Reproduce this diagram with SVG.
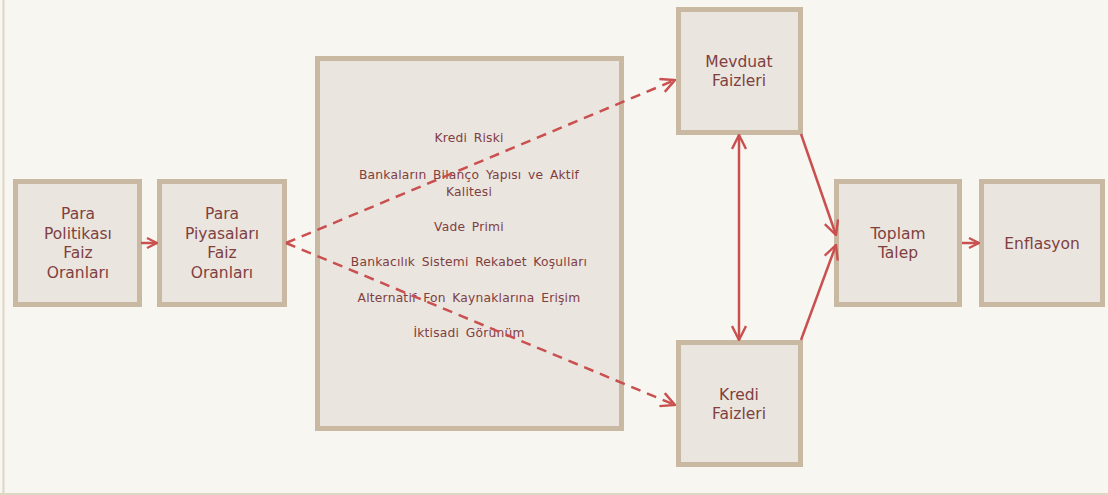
<svg xmlns="http://www.w3.org/2000/svg" width="1108" height="495" viewBox="0 0 1108 495">
<defs>
<style>
.box{fill:#ebe5df;stroke:#c9b9a2;stroke-width:5}
.lbl{font-family:"DejaVu Sans",sans-serif;font-size:15.5px;fill:#803f3f;text-anchor:middle}
.sm{font-family:"DejaVu Sans",sans-serif;font-size:12.3px;fill:#803f3f;text-anchor:middle;word-spacing:2.5px;letter-spacing:0.2px}
.ln{stroke:#c9504f;stroke-width:2.5;fill:none}
.dash{stroke:#c9504f;stroke-width:2.5;fill:none;stroke-dasharray:10 7}
</style>
<marker id="ah" viewBox="0 0 12 12" refX="11" refY="6" markerWidth="12" markerHeight="12" markerUnits="userSpaceOnUse" orient="auto-start-reverse">
<path d="M1,1 L11,6 L1,11" fill="none" stroke="#c9504f" stroke-width="2.2"/>
</marker>
<marker id="ahL" viewBox="0 0 16 16" refX="15" refY="8" markerWidth="16" markerHeight="16" markerUnits="userSpaceOnUse" orient="auto-start-reverse">
<path d="M1,1 L15,8 L1,15" fill="none" stroke="#c9504f" stroke-width="2.4"/>
</marker>
</defs>
<rect x="0" y="0" width="1108" height="495" fill="#f7f6f1"/>
<line x1="3.5" y1="0" x2="3.5" y2="495" stroke="#ddd7c4" stroke-width="2"/>
<line x1="0" y1="494" x2="1108" y2="494" stroke="#ddd7c4" stroke-width="2"/>

<g id="n1"><rect class="box" x="15.5" y="181.5" width="124" height="123"/>
<text class="lbl"><tspan x="78" y="219">Para</tspan><tspan x="78" y="238.5">Politikası</tspan><tspan x="78" y="258">Faiz</tspan><tspan x="78" y="277.5">Oranları</tspan></text></g>

<g id="n2"><rect class="box" x="159.5" y="181.5" width="125" height="123"/>
<text class="lbl"><tspan x="222" y="219">Para</tspan><tspan x="222" y="238.5">Piyasaları</tspan><tspan x="222" y="258">Faiz</tspan><tspan x="222" y="277.5">Oranları</tspan></text></g>

<g id="n3"><rect class="box" x="317.5" y="58.5" width="304" height="370"/>
<text class="sm"><tspan x="469" y="142">Kredi Riski</tspan><tspan x="469" y="179">Bankaların Bilanço Yapısı ve Aktif</tspan><tspan x="469" y="196">Kalitesi</tspan><tspan x="469" y="231">Vade Primi</tspan><tspan x="469" y="266">Bankacılık Sistemi Rekabet Koşulları</tspan><tspan x="469" y="302">Alternatif Fon Kaynaklarına Erişim</tspan><tspan x="469" y="337">İktisadi Görünüm</tspan></text></g>

<g id="n4"><rect class="box" x="678.5" y="9.5" width="122" height="123"/>
<text class="lbl"><tspan x="739" y="67">Mevduat</tspan><tspan x="739" y="86">Faizleri</tspan></text></g>

<g id="n5"><rect class="box" x="678.5" y="342.5" width="122" height="122"/>
<text class="lbl"><tspan x="739" y="400">Kredi</tspan><tspan x="739" y="419">Faizleri</tspan></text></g>

<g id="n6"><rect class="box" x="836.5" y="181.5" width="123" height="123"/>
<text class="lbl"><tspan x="898" y="239">Toplam</tspan><tspan x="898" y="258">Talep</tspan></text></g>

<g id="n7"><rect class="box" x="981.5" y="181.5" width="121" height="123"/>
<text class="lbl"><tspan x="1042" y="249">Enflasyon</tspan></text></g>

<g id="connectors">
<line class="ln" x1="141" y1="243" x2="157" y2="243" marker-end="url(#ah)"/>
<line class="ln" x1="962" y1="243" x2="979" y2="243" marker-end="url(#ah)"/>
<line class="dash" x1="286" y1="243" x2="675" y2="80" marker-end="url(#ahL)"/>
<line class="dash" x1="286" y1="243" x2="675" y2="405" marker-end="url(#ahL)"/>
<line class="ln" x1="739" y1="135" x2="739" y2="340" marker-start="url(#ahL)" marker-end="url(#ahL)"/>
<line class="ln" x1="801" y1="134" x2="836" y2="235" marker-end="url(#ahL)"/>
<line class="ln" x1="801" y1="340" x2="836" y2="245" marker-end="url(#ahL)"/>
</g>
</svg>
